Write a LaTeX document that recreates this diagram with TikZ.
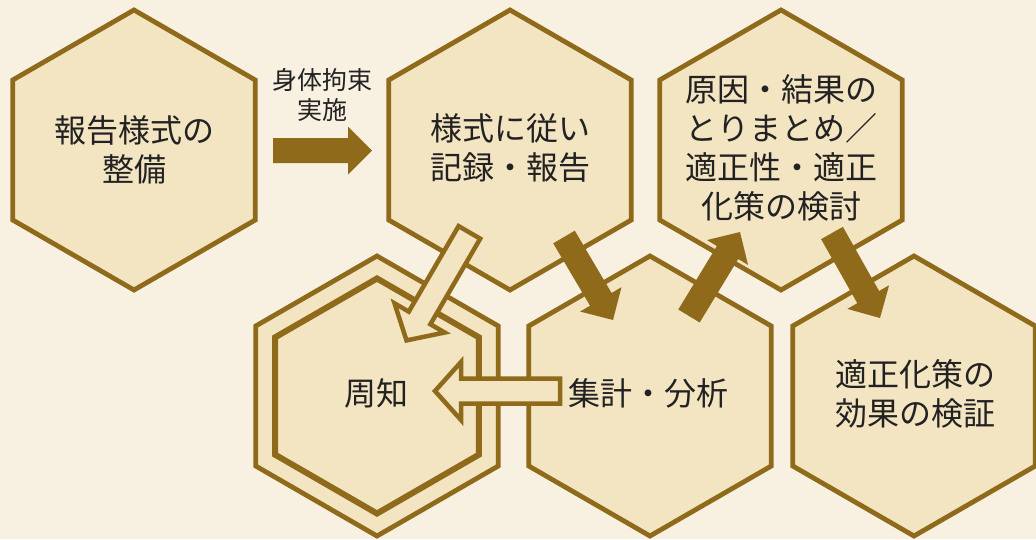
\documentclass[tikz,border=0pt]{standalone}
\usepackage{fontspec}
\newfontfamily\jpfont{Noto Sans CJK JP}
\usetikzlibrary{calc}
\definecolor{bgc}{HTML}{F8F1E1}
\definecolor{hexfill}{HTML}{F3E4C2}
\definecolor{brn}{HTML}{8E6A1A}
\definecolor{txtc}{HTML}{222222}
\newcommand{\hexdraw}[3]{%
  \draw[#1] (#2) +(90:#3) -- +(150:#3) -- +(210:#3) -- +(270:#3) -- +(330:#3) -- +(30:#3) -- cycle;}
\newcommand{\blockarrow}[6]{%
  \coordinate (bac) at ($(#3)!#6!(#2)$);
  \draw[#1] ($(#2)!#4!90:(#3)$) -- ($(bac)!#4!90:(#3)$) -- ($(bac)!#5!90:(#3)$) -- (#3)
    -- ($(bac)!#5!-90:(#3)$) -- ($(bac)!#4!-90:(#3)$) -- ($(#2)!#4!-90:(#3)$) -- cycle;}
\tikzset{
  hexbox/.style={draw=brn, fill=hexfill, line width=4.8pt, line join=miter},
  innerhex/.style={draw=brn, fill=hexfill, line width=6pt, line join=miter},
  solidarrow/.style={fill=brn, draw=none},
  hollowarrow/.style={draw=brn, fill=hexfill, line width=4.5pt, line join=miter},
  maintext/.style={font=\jpfont\fontsize{32}{39}\selectfont, text=txtc, align=center, inner sep=0pt},
  smalltext/.style={font=\jpfont\fontsize{25}{30}\selectfont, text=txtc, align=center, inner sep=0pt}
}
\begin{document}
\begin{tikzpicture}[x=1pt, y=-1pt]
\useasboundingbox (0,0) rectangle (1036,539);
\fill[bgc] (0,0) rectangle (1036,539);
% hex centres
\coordinate (c1) at (134,150);
\coordinate (c2) at (510,150);
\coordinate (c3) at (781,150);
\coordinate (c4) at (377,396);
\coordinate (c5) at (650,396);
\coordinate (c6) at (914,396);
% hexagons
\hexdraw{hexbox}{c1}{140}
\hexdraw{hexbox}{c2}{140}
\hexdraw{hexbox}{c3}{140}
\hexdraw{hexbox}{c4}{140}
\hexdraw{innerhex}{c4}{117.5}
\hexdraw{hexbox}{c5}{140}
\hexdraw{hexbox}{c6}{140}
% texts
\node[maintext] (h1) at (134,150) {報告様式の\\整備};
\node[maintext] (h2) at (510,148) {様式に従い\\記録・報告};
\node[maintext] (h3) at (781,148) {原因・結果の\\とりまとめ／\\適正性・適正\\化策の検討};
\node[maintext] (h4) at (376,393) {周知};
\node[maintext] (h5) at (648.5,393) {集計・分析};
\node[maintext] (h6) at (915,394) {適正化策の\\効果の検証};
\node[smalltext] (lab) at (322,95) {身体拘束\\実施};
% arrow end points
\coordinate (a1s) at (273,150.5);
\coordinate (a1e) at (372,150.5);
\coordinate (a2s) at (469.4,232.4);
\coordinate (a2e) at (406.5,340.4);
\coordinate (a3s) at (560,391);
\coordinate (a3e) at (435,391);
\coordinate (a4s) at (564,237);
\coordinate (a4e) at (613,320);
\coordinate (a5s) at (689,316);
\coordinate (a5e) at (740,232);
\coordinate (a6s) at (832,233);
\coordinate (a6e) at (880,318);
% arrows
\blockarrow{solidarrow}{a1s}{a1e}{12.5pt}{24pt}{24pt}
\blockarrow{hollowarrow}{a2s}{a2e}{12.5pt}{29pt}{26pt}
\blockarrow{hollowarrow}{a3s}{a3e}{12.5pt}{29pt}{26pt}
\blockarrow{solidarrow}{a4s}{a4e}{12.5pt}{24pt}{24pt}
\blockarrow{solidarrow}{a5s}{a5e}{12.5pt}{24pt}{24pt}
\blockarrow{solidarrow}{a6s}{a6e}{12.5pt}{24pt}{24pt}
\end{tikzpicture}
\end{document}
